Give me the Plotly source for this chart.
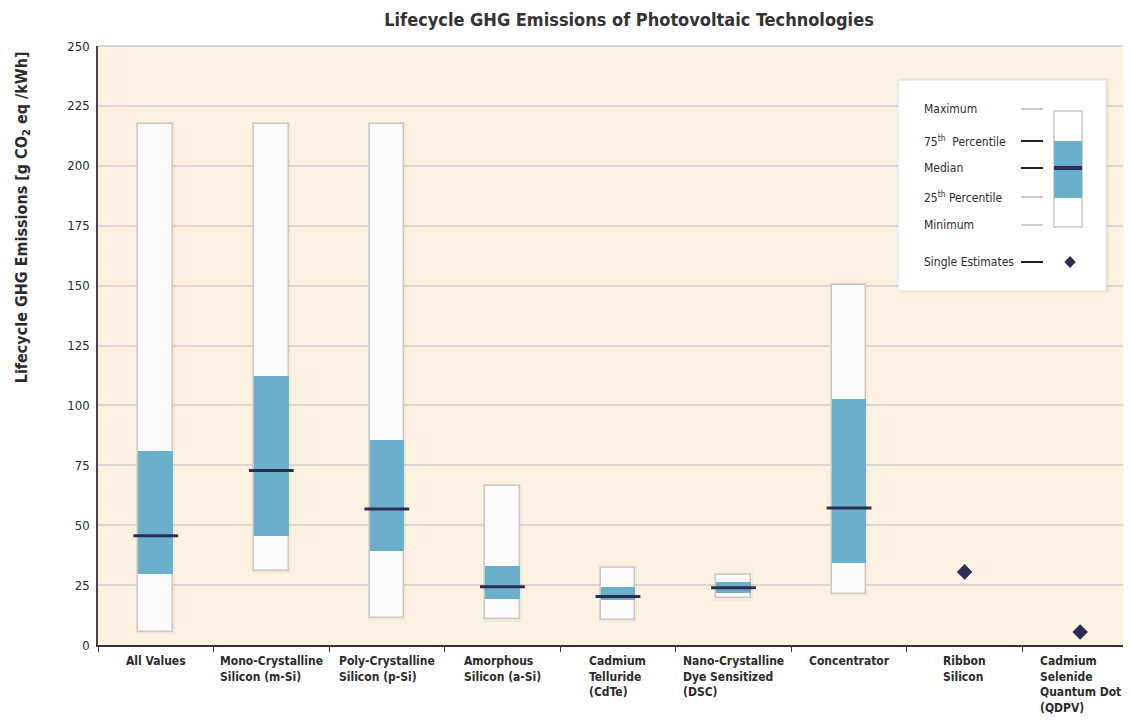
import plotly.graph_objects as go

# Lifecycle GHG emissions (g CO2 eq / kWh)
categories = [
    "All Values",
    "Mono-Crystalline<br>Silicon (m-Si)",
    "Poly-Crystalline<br>Silicon (p-Si)",
    "Amorphous<br>Silicon (a-Si)",
    "Cadmium<br>Telluride<br>(CdTe)",
    "Nano-Crystalline<br>Dye Sensitized<br>(DSC)",
    "Concentrator",
    "Ribbon<br>Silicon",
    "Cadmium<br>Selenide<br>Quantum Dot<br>(QDPV)",
]

box_cats = categories[:7]
minimum = [5.4, 31, 11.3, 10.7, 10.4, 19.5, 21.3]
pct25 = [29.6, 45.5, 39.2, 19.4, 18.8, 21.6, 34.2]
median = [45.6, 72.8, 56.8, 24.3, 20.2, 23.9, 57.2]
pct75 = [80.8, 112.3, 85.6, 33, 24.3, 26.4, 102.7]
maximum = [217.4, 217.4, 217.4, 66.4, 32.3, 29.4, 150.3]

single_cats = categories[7:]
single_vals = [30.5, 5.4]

y_ticks = [0, 25, 50, 75, 100, 125, 150, 175, 200, 225, 250]

COLORS = {
    "plot_bg": "#fdf2e2",
    "box": "#fcfcfc",
    "box_line": "#cac7c5",
    "iqr": "#6aafc9",
    "median": "#2c2c54",
    "grid": "#dcd6d2",
    "text": "#2b2b2b",
}
FONT = "DejaVu Sans Condensed, Roboto, Open Sans, sans-serif"

fig = go.Figure()

# soft shadow behind each box
fig.add_bar(
    x=box_cats,
    base=[m - 1.0 for m in minimum],
    y=[mx - mn + 2.0 for mx, mn in zip(maximum, minimum)],
    width=0.335,
    marker=dict(color="rgba(150,120,90,0.07)", line=dict(width=0)),
    hoverinfo="skip",
)
# whole range (min..max)
fig.add_bar(
    x=box_cats,
    base=minimum,
    y=[mx - mn for mx, mn in zip(maximum, minimum)],
    width=0.3,
    marker=dict(color=COLORS["box"], line=dict(color=COLORS["box_line"], width=1.5)),
    hoverinfo="skip",
)
# interquartile range
fig.add_bar(
    x=box_cats,
    base=pct25,
    y=[q3 - q1 for q3, q1 in zip(pct75, pct25)],
    width=0.3,
    marker=dict(color=COLORS["iqr"], line=dict(width=0)),
    hoverinfo="skip",
)
# medians
fig.add_scatter(
    x=box_cats,
    y=median,
    mode="markers",
    marker=dict(symbol="line-ew", size=32, line=dict(color=COLORS["median"], width=3)),
    hoverinfo="skip",
)
# single estimates
fig.add_scatter(
    x=single_cats,
    y=single_vals,
    mode="markers",
    marker=dict(symbol="diamond", size=12, color=COLORS["median"]),
    hoverinfo="skip",
)

# category labels, lines left aligned like the original
for cat in categories:
    fig.add_annotation(
        x=cat, y=0, xref="x", yref="paper",
        text="<b>" + cat + "</b>",
        showarrow=False, xanchor="center", yanchor="top", yshift=-7,
        align="left", font=dict(size=12, color=COLORS["text"], family=FONT),
    )

# y-axis title (sits above the axis middle in the original)
fig.add_annotation(
    x=-0.0736, y=0.714, xref="paper", yref="paper", textangle=-90,
    text="<b>Lifecycle GHG Emissions [g CO<sub>2</sub> eq /kWh]</b>",
    showarrow=False, xanchor="center", yanchor="middle",
    font=dict(size=16, color=COLORS["text"], family=FONT),
)

# top border of the plot area
fig.add_shape(type="line", xref="paper", yref="paper", x0=0, x1=1, y0=1, y1=1,
              line=dict(color="#d6d4d2", width=2))

# legend panel
fig.add_shape(type="rect", xref="paper", yref="paper", x0=0.7775, x1=0.979, y0=0.588, y1=0.946,
              fillcolor="rgba(140,120,100,0.12)", line=dict(width=0), layer="above")
fig.add_shape(type="rect", xref="paper", yref="paper", x0=0.7745, x1=0.9758, y0=0.591, y1=0.9432,
              fillcolor="white", line=dict(color="#e2e0de", width=1), layer="above")

legend_rows = [
    ("Maximum", 0.8948, "#9a9a9a", 1),
    ("75<sup>th</sup>  Percentile", 0.8414, "#222222", 2),
    ("Median", 0.7963, "#222222", 2),
    ("25<sup>th</sup> Percentile", 0.7479, "#9a9a9a", 1),
    ("Minimum", 0.7012, "#9a9a9a", 1),
    ("Single Estimates", 0.6394, "#222222", 2),
]
for label, ly, lc, lw in legend_rows:
    fig.add_annotation(x=0.7977, y=ly, xref="paper", yref="paper", text=label,
                       showarrow=False, xanchor="left", yanchor="middle",
                       font=dict(size=12, color=COLORS["text"], family=FONT))
    fig.add_shape(type="line", xref="paper", yref="paper", x0=0.8935, x1=0.9148, y0=ly, y1=ly,
                  line=dict(color=lc, width=lw), layer="above")

fig.add_shape(type="rect", xref="paper", yref="paper", x0=0.9255, x1=0.9526, y0=0.6978, y1=0.8915,
              fillcolor="white", line=dict(color="#c9c6c4", width=1.5), layer="above")
fig.add_shape(type="rect", xref="paper", yref="paper", x0=0.9255, x1=0.9526, y0=0.7462, y1=0.8414,
              fillcolor=COLORS["iqr"], line=dict(width=0), layer="above")
fig.add_shape(type="line", xref="paper", yref="paper", x0=0.9255, x1=0.9526, y0=0.7963, y1=0.7963,
              line=dict(color=COLORS["median"], width=4), layer="above")
fig.add_shape(type="path", xref="paper", yref="paper",
              path="M 0.9355 0.6394 L 0.941 0.6494 L 0.9465 0.6394 L 0.941 0.6294 Z",
              fillcolor=COLORS["median"], line=dict(width=0), layer="above")

# the page body has an 8px margin, so the figure is sized to fit the window
fig.update_layout(
    width=1123,
    height=716,
    barmode="overlay",
    bargap=0,
    showlegend=False,
    paper_bgcolor="white",
    plot_bgcolor=COLORS["plot_bg"],
    margin=dict(l=90, r=0, t=38, b=79, autoexpand=False),
    font=dict(family=FONT, color=COLORS["text"]),
    title=dict(
        text="<b>Lifecycle GHG Emissions of Photovoltaic Technologies</b>",
        x=0.553, xanchor="center", y=0.983, yanchor="middle",
        font=dict(size=18, color="#333333", family=FONT),
    ),
    xaxis=dict(
        type="category",
        categoryorder="array",
        categoryarray=categories,
        range=[-0.5, 8.44],
        automargin=False,
        showticklabels=False,
        ticks="outside",
        tickson="boundaries",
        ticklen=5,
        tickcolor="#333333",
        showgrid=False,
        showline=True,
        linecolor="#333333",
        linewidth=2,
    ),
    yaxis=dict(
        range=[0, 250],
        tickvals=y_ticks,
        automargin=False,
        showgrid=True,
        gridcolor=COLORS["grid"],
        gridwidth=1.5,
        zeroline=False,
        showline=True,
        linecolor="#444444",
        linewidth=1.5,
        ticks="",
        ticklabelstandoff=4,
        tickfont=dict(size=13, color=COLORS["text"]),
    ),
)

fig.write_html("out.html")
